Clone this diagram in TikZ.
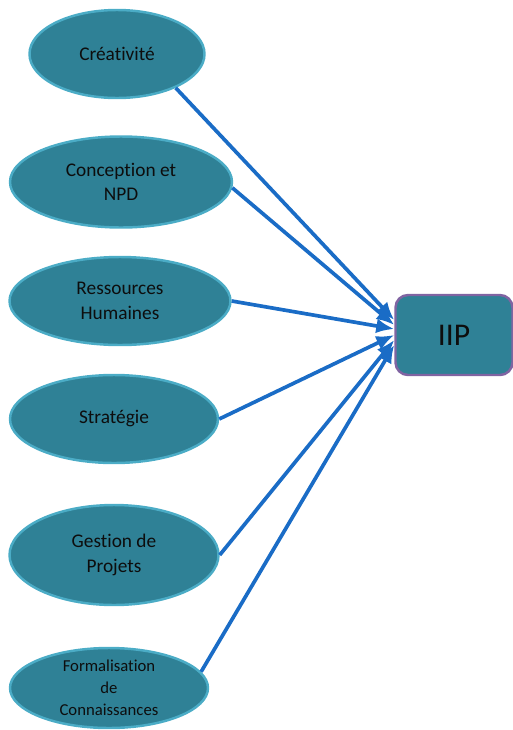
\documentclass[tikz,border=0pt]{standalone}
\usepackage{fontspec}
\setmainfont[Ligatures=NoCommon]{Carlito}
\usepackage{tikz}
\usetikzlibrary{arrows.meta,shapes.geometric}
\definecolor{cFill}{HTML}{2F8196}
\definecolor{cRim}{HTML}{4BACC6}
\definecolor{cBox}{HTML}{8064A2}
\definecolor{cArrow}{HTML}{1A6CC6}
\definecolor{cText}{HTML}{0D0D0D}
\tikzset{
  arr/.style={-{Latex[length=3.6mm,width=3mm]}, line width=2.1pt, draw=cArrow},
  src/.style={ellipse, draw=cRim, line width=1.4pt, fill=cFill, inner sep=0pt,
    text=cText, align=center, font=\fontsize{11}{14}\selectfont},
  tgt/.style={rectangle, rounded corners=2.5mm, draw=cBox, line width=1.4pt, fill=cFill,
    inner sep=0pt, text=cText, font=\fontsize{18}{20}\selectfont},
}
\begin{document}
\begin{tikzpicture}
        \useasboundingbox (0,0) rectangle (10.26,-14.6);
        % sources
        \node[src, minimum width=3.5cm,  minimum height=1.76cm] (cre) at (2.34,-1.08) {Créativité};
        \node[src, minimum width=4.44cm, minimum height=1.82cm] (con) at (2.42,-3.64) {Conception et\\NPD};
        \node[src, minimum width=4.42cm, minimum height=1.76cm] (res) at (2.40,-6.02) {Ressources\\Humaines};
        \node[src, minimum width=4.16cm, minimum height=1.76cm] (str) at (2.28,-8.38) {Stratégie};
        \node[src, minimum width=4.18cm, minimum height=2.0cm]  (ges) at (2.28,-11.10) {Gestion de\\Projets};
        \node[src, minimum width=3.96cm, minimum height=1.6cm, font=\fontsize{9.5}{12.5}\selectfont]
          (frm) at (2.18,-13.76) {Formalisation\\de\\Connaissances};
        % target
        \node[tgt, minimum width=2.34cm, minimum height=1.6cm] (iip) at (9.08,-6.70) {IIP};
        % links
        \draw[arr] (cre.-30) -- ([yshift=3mm]iip.west);
        \draw[arr] (con.-3)  -- ([yshift=2mm]iip.west);
        \draw[arr] (res.east) -- ([yshift=1.2mm]iip.west);
        \draw[arr] (str.east) -- ([yshift=0mm]iip.west);
        \draw[arr] (ges.east) -- ([yshift=-1mm]iip.west);
        \draw[arr] (frm.10)  -- ([yshift=-2mm]iip.west);
      \end{tikzpicture}
\end{document}
